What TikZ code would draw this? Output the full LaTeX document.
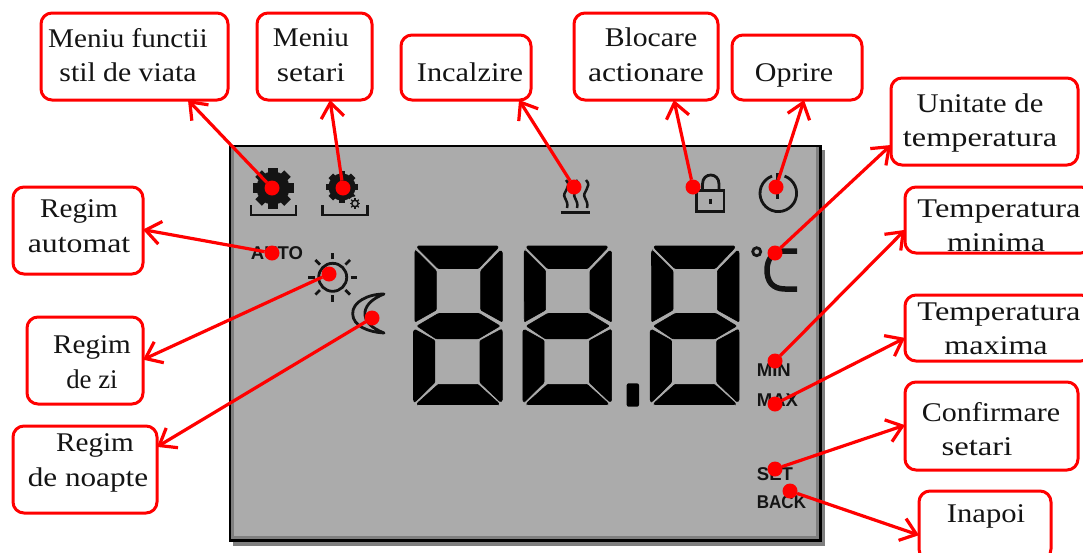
\documentclass[tikz,border=0pt]{standalone}
\usepackage{graphicx}
\usepackage{fontspec}
\setmainfont[FakeStretch=1.08]{Liberation Serif}
\newfontfamily\lcdfont{Liberation Sans}
\usetikzlibrary{arrows.meta,calc}
\definecolor{lcdgray}{HTML}{ABABAB}
\definecolor{lcdink}{HTML}{141414}
\definecolor{shadowgray}{HTML}{7F7F7F}
\definecolor{alertred}{HTML}{FF0000}
\tikzset{
  callout/.style={draw=alertred,line width=3pt,rounded corners=11pt,fill=white,inner sep=0pt,outer sep=0pt},
  calloutlabel/.style={align=center,inner sep=0pt,text=black!92,font=\fontsize{27}{34.5}\selectfont},
  hotspot/.style={circle,fill=alertred,minimum size=15pt,inner sep=0pt,outer sep=0pt},
  pointer/.style={draw=alertred,line width=3.2pt,-{Straight Barb[length=15pt,width=23pt,line width=3.2pt]}},
  segment/.style={fill=black,draw=black,line width=.6pt,rounded corners=1pt},
  lcdicon/.style={draw=lcdink,line width=2.8pt},
  lcdtext/.style={inner sep=0pt,anchor=west,text=lcdink,font=\lcdfont\bfseries\fontsize{18.5}{18.5}\selectfont}
}
\newcommand{\hs}[2]{\scalebox{#1}[1]{#2}}
\newcommand{\lcddigit}[1]{%
  \begin{scope}[shift={(#1,0)}]
    \fill[segment] (417.5,246)--(498,246)--(498,248)--(478.5,268.5)--(438,268.5)--(417.5,248)--cycle;
    \fill[segment] (414.8,252)--(415.8,250.5)--(436.3,270.8)--(436.3,310)--(415,322)--cycle;
    \fill[segment] (502.3,252)--(500.5,250.5)--(480.7,270.8)--(480.7,310)--(502.3,322)--cycle;
    \fill[segment] (417,326)--(438.3,313.5)--(479.3,313.5)--(500,326)--(478.3,338.8)--(436,338.8)--cycle;
    \fill[segment] (413.5,331)--(415,329.5)--(434.8,340.5)--(434.8,382.5)--(415,402)--(413.5,400.7)--cycle;
    \fill[segment] (502.3,331)--(501,329.5)--(480,340.8)--(480,382.5)--(500.5,402)--(502.3,400.7)--cycle;
    \fill[segment] (417.5,404.5)--(417.5,403)--(438.3,384.3)--(477.7,384.3)--(498.5,403)--(498.5,404.5)--cycle;
  \end{scope}}
\newcommand{\lcdgear}[5]{% x y body tip toothwidth
  \fill[lcdink] (#1,#2) circle[radius=#3];
  \foreach \a in {0,45,...,315}
    \fill[lcdink,rotate around={\a:(#1,#2)}] ({#1-#5},{#2-#4}) rectangle ({#1+#5},#2);}
\begin{document}
\begin{tikzpicture}[x=1pt,y=-1pt]
\useasboundingbox (0,0) rectangle (1083,552);
\fill[white] (0,0) rectangle (1083,552);
% panel
\fill[shadowgray] (233,150) rectangle (825,546);
\fill[lcdgray] (230,146) rectangle (820,540);
\fill[shadowgray] (230,146) rectangle (234,540);
\fill[shadowgray] (816,146) rectangle (820,540);
\fill[shadowgray] (230,536) rectangle (820,540);
\draw[black,line width=2.8pt] (230,146) rectangle (820.5,540.5);
% digits
\lcddigit{0}\lcddigit{109.3}\lcddigit{236.7}
\fill[black,rounded corners=2pt] (626.7,383.3) rectangle (639,406.7);
% gear icons
\lcdgear{273}{188}{16.5}{20.5}{4.6}
\draw[lcdink,line width=2.5pt] (251,205)--(251,215)--(296,215)--(296,205);
\lcdgear{342}{187}{13.5}{15.8}{3.2}
\draw[lcdink,line width=2.5pt] (322.5,205)--(322.5,215)--(367.5,215)--(367.5,205);
\fill[lcdgray] (355,203.5) circle[radius=7];
\draw[lcdink,line width=1.5pt] (355,203.5) circle[radius=3.2];
\foreach \a in {0,45,...,315}
  \draw[lcdink,line width=1.2pt] (355,203.5)++(\a:3.2)--++(\a:2.2);
% sun
\draw[lcdicon] (332.7,277.3) circle[radius=14];
\foreach \a in {0,45,...,315}
  \draw[lcdicon] (332.7,277.3)++(\a:18)--++(\a:6.5);
% moon
\draw[lcdicon,line join=round] (384,294) .. controls (368,294) and (352,302) .. (352.7,314)
  .. controls (353,326) and (368,332) .. (384,333)
  .. controls (372,328) and (364,322) .. (365,312)
  .. controls (366,304) and (374,298) .. (384,294) -- cycle;
% heating
\foreach \x in {0,10,20}
  \draw[lcdink,line width=2.5pt] (566+\x,180) .. controls (573+\x,187) and (561+\x,192) .. (565+\x,198)
    .. controls (567+\x,202) and (568+\x,204) .. (567+\x,208);
\draw[lcdink,line width=3pt] (560.7,212.5)--(590,212.5);
% lock
\draw[lcdicon] (696.7,190.7) rectangle (724,211.7);
\draw[lcdicon] (702.5,190.7)--(702.5,184) .. controls (702.5,172) and (719,172) .. (719,184)--(719,190.7);
\draw[lcdink,line width=3pt] (710,198.5)--(710,204);
% power
\draw[lcdicon] (784.56,176.1) arc[start angle=-70,end angle=250,radius=18.3];
\draw[lcdink,line width=2.8pt] (777.5,173)--(777.5,199);
% degree C
\draw[lcdink,line width=2.8pt] (756.7,251.7) circle[radius=4];
\draw[lcdink,line width=5.5pt] (797,251)--(785,251) .. controls (772,251) and (767,260) .. (767,270)
  .. controls (767,281) and (772,289) .. (785,289)--(797,289);
% printed words
\node[lcdtext] (auto) at (250.7,253) {AUTO};
\node[lcdtext] (minw) at (756.7,370) {MIN};
\node[lcdtext] (maxw) at (756.7,400) {MAX};
\node[lcdtext] (setw) at (756.7,473.7) {SET};
\node[lcdtext] (backw) at (756.7,502) {\hs{.92}{BACK}};
% hotspots
\node[hotspot] (dfunc) at (272,188) {};
\node[hotspot] (dset) at (343,188) {};
\node[hotspot] (dheat) at (574,187) {};
\node[hotspot] (dlock) at (693,187) {};
\node[hotspot] (doff) at (776,187) {};
\node[hotspot] (dunit) at (775,253) {};
\node[hotspot] (dmin) at (775,361) {};
\node[hotspot] (dmax) at (775,404) {};
\node[hotspot] (dconf) at (775,469) {};
\node[hotspot] (dback) at (790,491) {};
\node[hotspot] (dauto) at (272,253) {};
\node[hotspot] (dday) at (329,274) {};
\node[hotspot] (dnight) at (372,318) {};
% callouts
\node[callout,minimum width=187pt,minimum height=87pt] (bfunc) at (134.5,56.5) {};
\node[callout,minimum width=115pt,minimum height=87pt] (bset) at (314.5,56.5) {};
\node[callout,minimum width=130pt,minimum height=65pt] (bheat) at (466,67.5) {};
\node[callout,minimum width=144pt,minimum height=87pt] (block) at (646,56.5) {};
\node[callout,minimum width=130pt,minimum height=65pt] (boff) at (797,67.5) {};
\node[callout,minimum width=187pt,minimum height=87pt] (bunit) at (984.5,121.5) {};
\node[callout,minimum width=187pt,minimum height=66pt] (bmin) at (998.5,220) {};
\node[callout,minimum width=187pt,minimum height=66pt] (bmax) at (998.5,328) {};
\node[callout,minimum width=173pt,minimum height=88pt] (bconf) at (991.5,426) {};
\node[callout,minimum width=132pt,minimum height=69pt] (bback) at (985,525.5) {};
\node[callout,minimum width=130pt,minimum height=87pt] (bauto) at (78,230.5) {};
\node[callout,minimum width=116pt,minimum height=87pt] (bday) at (85,360.5) {};
\node[callout,minimum width=144pt,minimum height=87pt] (bnight) at (85,469.5) {};
% labels
\node[calloutlabel] (tfunc) at (128,55) {Meniu functii\\\hs{1.02}{stil de viata}};
\node[calloutlabel] (tset) at (311,55) {Meniu\\\hs{1.08}{setari}};
\node[calloutlabel] (theat) at (470,72) {\hs{1.04}{Incalzire}};
\node[calloutlabel] (tlock) at (646,55) {\hspace*{10pt}\hs{1.02}{Blocare}\\\hs{1.085}{actionare}};
\node[calloutlabel] (toff) at (794,75) {\hs{1.03}{Oprire}};
\node[calloutlabel] (tunit) at (980,123) {\hs{1.05}{Unitate de}\\\hs{1.107}{temperatura}};
\node[calloutlabel] (tmin) at (999,226) {\hs{1.11}{Temperatura}\\\hspace*{-6pt}\hs{1.1}{minima}};
\node[calloutlabel] (tmax) at (999,329) {\hs{1.11}{Temperatura}\\\hspace*{-6pt}\hs{1.1}{maxima}};
\node[calloutlabel] (tconf) at (991,429) {\hs{1.03}{Confirmare}\\\hspace*{-28pt}\hs{1.12}{setari}};
\node[calloutlabel] (tback) at (986,516) {\hs{1.05}{Inapoi}};
\node[calloutlabel] (tauto) at (79,226) {Regim\\\hs{1.09}{automat}};
\node[calloutlabel] (tday) at (92,362) {Regim\\\hs{.92}{de zi}};
\node[calloutlabel] (tnight) at (88,463) {\hspace*{14pt}Regim\\\hs{1.07}{de noapte}};
% pointers
\draw[pointer] (dfunc) -- ($(bfunc.south west)!.786!(bfunc.south east)$);
\draw[pointer] (dset) -- ($(bset.south west)!.635!(bset.south east)$);
\draw[pointer] (dheat) -- ($(bheat.south west)!.908!(bheat.south east)$);
\draw[pointer] (dlock) -- ($(block.south west)!.694!(block.south east)$);
\draw[pointer] (doff) -- ($(boff.south west)!.554!(boff.south east)$);
\draw[pointer] (dunit) -- ($(bunit.north west)!.77!(bunit.south west)$);
\draw[pointer] (dmin) -- ($(bmin.north west)!.65!(bmin.south west)$);
\draw[pointer] (dmax) -- ($(bmax.north west)!.65!(bmax.south west)$);
\draw[pointer] (dconf) -- ($(bconf.north west)!.49!(bconf.south west)$);
\draw[pointer] (dback) -- ($(bback.north west)!.64!(bback.south west)$);
\draw[pointer] (dauto) -- ($(bauto.north east)!.49!(bauto.south east)$);
\draw[pointer] (dday) -- ($(bday.north east)!.49!(bday.south east)$);
\draw[pointer] (dnight) -- ($(bnight.north east)!.24!(bnight.south east)$);
\end{tikzpicture}
\end{document}
